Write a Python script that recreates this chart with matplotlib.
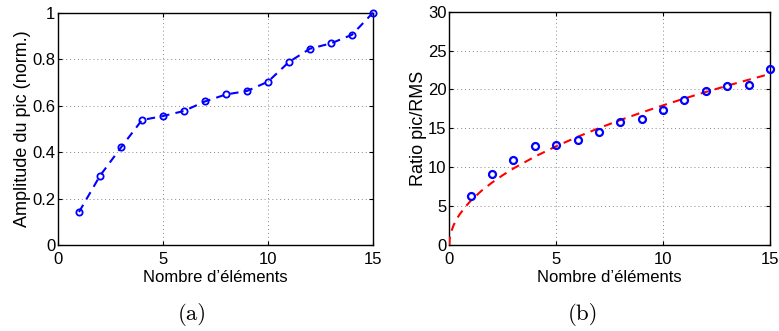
import matplotlib
matplotlib.use("Agg")
import matplotlib.pyplot as plt
from matplotlib.ticker import FuncFormatter

# Data
n_elements = [1, 2, 3, 4, 5, 6, 7, 8, 9, 10, 11, 12, 13, 14, 15]
amplitude_norm = [0.142, 0.298, 0.420, 0.538, 0.555, 0.577, 0.618, 0.648,
                  0.663, 0.703, 0.788, 0.845, 0.868, 0.905, 1.0]
ratio_pic_rms = [6.34, 9.09, 10.89, 12.77, 12.86, 13.54, 14.49, 15.77,
                 16.2, 17.31, 18.6, 19.8, 20.44, 20.61, 22.63]
# fitted (red dashed) curve
fit_x = [0, 0.02, 0.05, 0.1, 0.2, 0.35, 0.5, 0.75, 1, 1.5, 2, 2.5, 3, 4, 5, 6, 7, 8,
         9, 10, 11, 12, 13, 14, 15]
fit_y = [0, 0.8, 1.27, 1.8, 2.54, 3.36, 4.0, 4.9, 5.68, 6.96, 8.03, 8.98, 9.84,
         11.36, 12.7, 13.91, 15.03, 16.07, 17.04, 17.96, 18.84, 19.68, 20.48,
         21.25, 22.0]

xticks = [0, 5, 10, 15]
yticks_a = [0, 0.2, 0.4, 0.6, 0.8, 1]
yticks_b = [0, 5, 10, 15, 20, 25, 30]

W, H = 779, 331
fig = plt.figure(figsize=(W / 100, H / 100), dpi=100)
font = ['Liberation Sans', 'DejaVu Sans']
fs = 12
fs_y = 13

def setup(ax, yticks, ylim):
    ax.set_xlim(0, 15)
    ax.set_ylim(*ylim)
    ax.set_xticks(xticks)
    ax.set_yticks(yticks)
    ax.yaxis.set_major_formatter(FuncFormatter(lambda v, p: '%g' % v))
    ax.tick_params(direction='in', length=3, width=0.8, top=True, right=True,
                   labelsize=fs)
    ax.tick_params(axis='x', pad=5)
    ax.tick_params(axis='y', pad=2)
    for lab in ax.get_xticklabels() + ax.get_yticklabels():
        lab.set_family(font)
    ax.grid(True, linestyle=(0, (1, 3)), color='#888888', linewidth=0.7)
    for s in ax.spines.values():
        s.set_linewidth(1.0)
        s.set_color('black')
    ax.set_xlabel("Nombre d\u2019éléments", fontsize=fs, family=font, labelpad=2)

# (a)
ax1 = fig.add_axes([58 / W, 1 - 245 / H, (373 - 58) / W, (245 - 12.7) / H])
setup(ax1, yticks_a, (0, 1))
ax1.plot(n_elements, amplitude_norm, linestyle='--', color='#0000ff', linewidth=1.5,
         marker='o', markersize=4.5, markerfacecolor='none', markeredgewidth=1.3,
         dashes=(4, 3), clip_on=False, zorder=5)
ax1.set_ylabel("Amplitude du pic (norm.)", fontsize=fs_y, family=font, labelpad=1)

# (b)
ax2 = fig.add_axes([449.3 / W, 1 - 245 / H, (770 - 449.3) / W, (245 - 11.7) / H])
setup(ax2, yticks_b, (0, 30))
ax2.plot(fit_x, fit_y, linestyle='--', color='#ff0000', linewidth=1.5,
         dashes=(4, 3), zorder=4)
ax2.plot(n_elements, ratio_pic_rms, linestyle='none', color='#0000ff',
         marker='o', markersize=5, markerfacecolor='none', markeredgewidth=1.6,
         clip_on=False, zorder=5)
ax2.set_ylabel("Ratio pic/RMS", fontsize=fs_y, family=font, labelpad=1)

# captions
fig.text(192 / W, 1 - 315 / H, "(a)", ha='center', va='center', fontsize=16.5,
         family=['cmr10', 'DejaVu Serif'])
fig.text(583 / W, 1 - 315 / H, "(b)", ha='center', va='center', fontsize=16.5,
         family=['cmr10', 'DejaVu Serif'])

fig.savefig('out.png', dpi=100)
